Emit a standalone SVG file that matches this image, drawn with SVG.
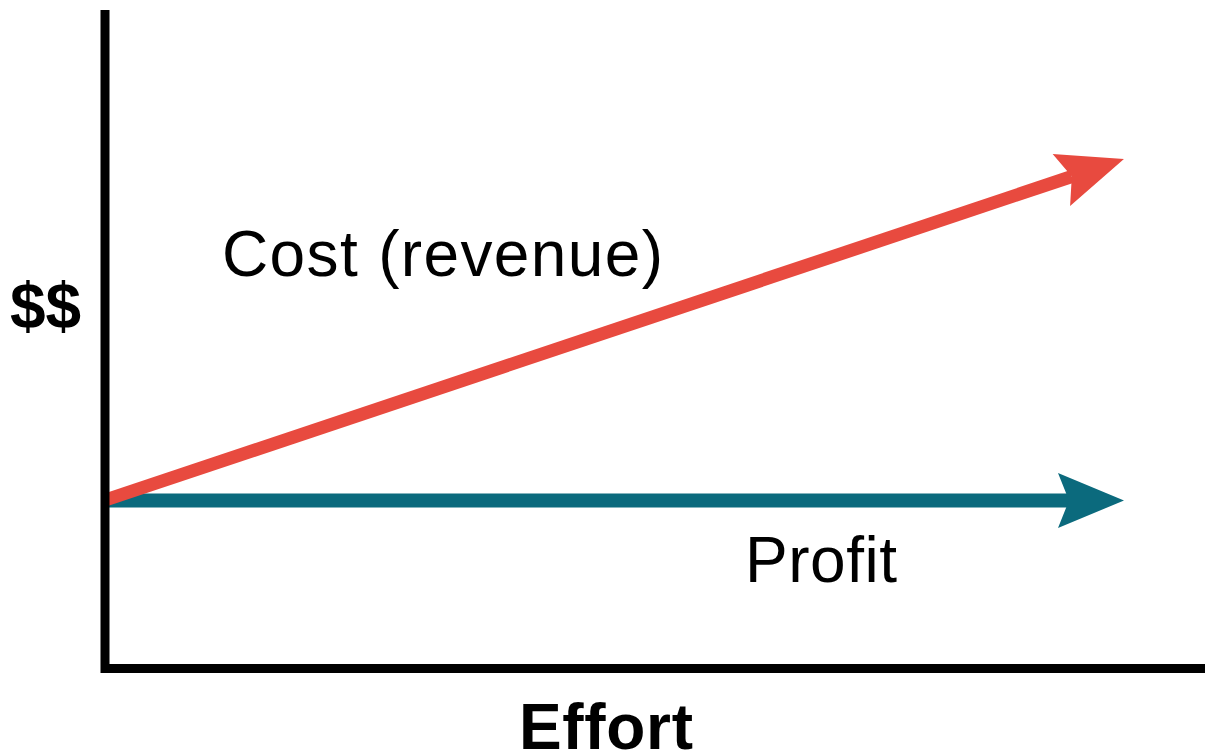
<svg xmlns="http://www.w3.org/2000/svg" width="1205" height="754" viewBox="0 0 1205 754">
  <style>
    .lbl { font-family: "Liberation Sans", Arial, sans-serif; font-size: 64px; fill: #000; }
    .bold { font-weight: bold; }
    .axis { fill: none; stroke: #000; stroke-width: 9; stroke-linejoin: miter; }
    .cost { stroke: #E84A3F; stroke-width: 13; fill: none; }
    .profit { stroke: #0B6A7D; stroke-width: 14; fill: none; }
  </style>
  <defs>
    <marker id="headRed" markerUnits="userSpaceOnUse" viewBox="-70 -30 72 60" markerWidth="72" markerHeight="60" refX="-55" refY="0" orient="auto">
      <path d="M0,0 L-66,-27.5 L-55,0 L-66,27.5 Z" fill="#E84A3F"/>
    </marker>
    <marker id="headTeal" markerUnits="userSpaceOnUse" viewBox="-70 -30 72 60" markerWidth="72" markerHeight="60" refX="-55" refY="0" orient="auto">
      <path d="M0,0 L-66,-27.5 L-55,0 L-66,27.5 Z" fill="#0B6A7D"/>
    </marker>
  </defs>
  <rect width="1205" height="754" fill="#fff"/>
  <g id="connectors">
    <line id="profit-line" class="profit" x1="105" y1="500.5" x2="1069" y2="500.5" marker-end="url(#headTeal)"/>
    <line id="cost-line" class="cost" x1="105" y1="500.2" x2="1071.8" y2="176.5" marker-end="url(#headRed)"/>
  </g>
  <g id="axes">
    <path class="axis" d="M105,10 V668.5 H1205"/>
  </g>
  <g id="label-cost"><text class="lbl" x="222" y="276" font-size="65" textLength="441" lengthAdjust="spacing">Cost (revenue)</text></g>
  <g id="label-profit"><text class="lbl" x="745" y="582" textLength="152" lengthAdjust="spacing">Profit</text></g>
  <g id="label-y"><text class="lbl bold" x="10" y="328">$$</text></g>
  <g id="label-x"><text class="lbl bold" x="519" y="749" font-size="65" textLength="174" lengthAdjust="spacing">Effort</text></g>
</svg>
